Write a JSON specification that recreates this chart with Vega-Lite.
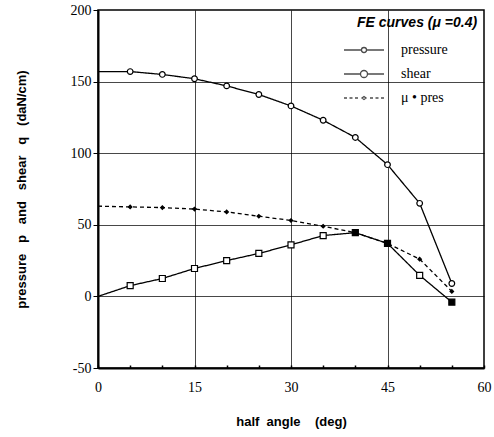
{
  "$schema": "https://vega.github.io/schema/vega-lite/v6.json",
  "autosize": "none",
  "width": 386,
  "height": 358,
  "padding": {"left": 98, "top": 10, "right": 10, "bottom": 69},
  "background": "white",
  "config": {
    "view": {"stroke": "black", "strokeWidth": 1.5},
    "axis": {"labelColor": "black", "titleColor": "black", "domainColor": "black", "domainWidth": 2, "tickColor": "black", "gridColor": "black", "gridOpacity": 0.85, "gridWidth": 1}
  },
  "data": {"values": [
    {"angle": 0, "series": "pressure", "value": 157, "filled": false},
    {"angle": 5, "series": "pressure", "value": 157, "filled": false},
    {"angle": 10, "series": "pressure", "value": 155, "filled": false},
    {"angle": 15, "series": "pressure", "value": 152, "filled": false},
    {"angle": 20, "series": "pressure", "value": 147, "filled": false},
    {"angle": 25, "series": "pressure", "value": 141, "filled": false},
    {"angle": 30, "series": "pressure", "value": 133, "filled": false},
    {"angle": 35, "series": "pressure", "value": 123, "filled": false},
    {"angle": 40, "series": "pressure", "value": 111, "filled": false},
    {"angle": 45, "series": "pressure", "value": 92, "filled": false},
    {"angle": 50, "series": "pressure", "value": 65, "filled": false},
    {"angle": 55, "series": "pressure", "value": 9, "filled": false},
    {"angle": 0, "series": "shear", "value": 0, "filled": false},
    {"angle": 5, "series": "shear", "value": 7.5, "filled": false},
    {"angle": 10, "series": "shear", "value": 12.5, "filled": false},
    {"angle": 15, "series": "shear", "value": 19.5, "filled": false},
    {"angle": 20, "series": "shear", "value": 25, "filled": false},
    {"angle": 25, "series": "shear", "value": 30, "filled": false},
    {"angle": 30, "series": "shear", "value": 36, "filled": false},
    {"angle": 35, "series": "shear", "value": 42.5, "filled": false},
    {"angle": 40, "series": "shear", "value": 44.5, "filled": true},
    {"angle": 45, "series": "shear", "value": 37, "filled": true},
    {"angle": 50, "series": "shear", "value": 14.7, "filled": false},
    {"angle": 55, "series": "shear", "value": -4, "filled": true},
    {"angle": 0, "series": "μ • pres", "value": 63, "filled": true},
    {"angle": 5, "series": "μ • pres", "value": 62.5, "filled": true},
    {"angle": 10, "series": "μ • pres", "value": 62, "filled": true},
    {"angle": 15, "series": "μ • pres", "value": 61, "filled": true},
    {"angle": 20, "series": "μ • pres", "value": 59, "filled": true},
    {"angle": 25, "series": "μ • pres", "value": 56, "filled": true},
    {"angle": 30, "series": "μ • pres", "value": 53, "filled": true},
    {"angle": 35, "series": "μ • pres", "value": 49, "filled": true},
    {"angle": 40, "series": "μ • pres", "value": 44.5, "filled": true},
    {"angle": 45, "series": "μ • pres", "value": 37, "filled": true},
    {"angle": 50, "series": "μ • pres", "value": 26, "filled": true},
    {"angle": 55, "series": "μ • pres", "value": 3.5, "filled": true}
  ]},
  "encoding": {
    "x": {"field": "angle", "type": "quantitative", "scale": {"domain": [0, 60], "nice": false},
      "axis": {"values": [0, 5, 10, 15, 20, 25, 30, 35, 40, 45, 50, 55, 60], "labelExpr": "datum.value % 15 === 0 ? datum.label : ''",
        "labelFont": "Liberation Serif", "labelFontSize": 14,
        "encode": {"labels": {"update": {"font": {"value": "Liberation Serif"}}}},
        "gridOpacity": {"condition": {"test": "datum.value % 15 === 0 && datum.value > 0 && datum.value < 60", "value": 0.85}, "value": 0},
        "tickSize": -3, "tickWidth": 1.5, "labelPadding": 15, "labelFlush": false,
        "title": "half\u00a0\u00a0angle\u00a0\u00a0\u00a0\u00a0(deg)", "titleFont": "Liberation Sans", "titleFontWeight": "bold", "titleFontSize": 13, "titlePadding": 21}},
    "y": {"field": "value", "type": "quantitative", "scale": {"domain": [-50, 200], "nice": false},
      "axis": {"values": [-50, 0, 50, 100, 150, 200], "tickSize": 5, "labelPadding": 2,
        "labelFont": "Liberation Serif", "labelFontSize": 14,
        "encode": {"labels": {"update": {"font": {"value": "Liberation Serif"}}}},
        "labelExpr": "replace(datum.label, '\u2212', '-')",
        "gridOpacity": {"condition": {"test": "datum.value > -50 && datum.value < 200", "value": 0.85}, "value": 0},
        "title": "pressure\u00a0\u00a0\u00a0p\u00a0\u00a0\u00a0and\u00a0\u00a0\u00a0shear\u00a0\u00a0\u00a0q\u00a0\u00a0\u00a0(daN/cm)", "titleFont": "Liberation Sans", "titleFontWeight": "bold", "titleFontSize": 13, "titlePadding": 42}}
  },
  "layer": [
    {
      "mark": {"type": "line", "color": "black", "strokeWidth": 1.3},
      "encoding": {
        "detail": {"field": "series"},
        "strokeDash": {"field": "series", "type": "nominal", "scale": {"domain": ["pressure", "shear", "μ • pres"], "range": [[1, 0], [1, 0], [4, 3]]}, "legend": null}
      }
    },
    {
      "transform": [{"filter": "datum.angle > 0"}],
      "mark": {"type": "point", "stroke": "black", "strokeWidth": 1.2, "opacity": 1},
      "encoding": {
        "shape": {"field": "series", "type": "nominal", "scale": {"domain": ["pressure", "shear", "μ • pres"], "range": ["circle", "square", "diamond"]}, "legend": null},
        "size": {"field": "series", "type": "nominal", "scale": {"type": "ordinal", "domain": ["pressure", "shear", "μ • pres"], "range": [32, 36, 12]}, "legend": null},
        "fill": {"condition": {"test": "datum.filled", "value": "black"}, "value": "white"}
      }
    },
    {
      "transform": [{"filter": "false"}],
      "mark": {"type": "point", "filled": false},
      "encoding": {
        "shape": {"field": "series", "type": "nominal",
          "scale": {"domain": ["pressure", "shear", "μ • pres"], "range": [
            "M-4,0L-0.5,0M0.5,0L4,0M-0.5,0A0.5,0.5 0 1,1 0.5,0A0.5,0.5 0 1,1 -0.5,0Z",
            "M-4,0L-0.7,0M0.7,0L4,0M-0.7,0A0.7,0.7 0 1,1 0.7,0A0.7,0.7 0 1,1 -0.7,0Z",
            "M-4,0L-3.4,0M-2.9,0L-2.3,0M-1.8,0L-1.2,0M-0.4,0L0,-0.3L0.4,0L0,0.3ZM1.2,0L1.8,0M2.3,0L2.9,0M3.4,0L4,0"
          ]},
          "legend": {"title": "FE curves (μ =0.4)", "orient": "top-right", "offset": 6, "padding": 0,
            "titleFont": "Liberation Sans", "titleFontStyle": "italic", "titleFontWeight": "bold", "titleFontSize": 14, "titleColor": "black", "titlePadding": 13,
            "labelFont": "Liberation Serif", "labelFontSize": 14, "labelColor": "black", "labelOffset": 30,
            "symbolSize": 100, "symbolStrokeColor": "black", "symbolFillColor": "white", "symbolStrokeWidth": 1.3, "rowPadding": 10}}
      }
    }
  ],
  "resolve": {"scale": {"shape": "independent"}}
}
